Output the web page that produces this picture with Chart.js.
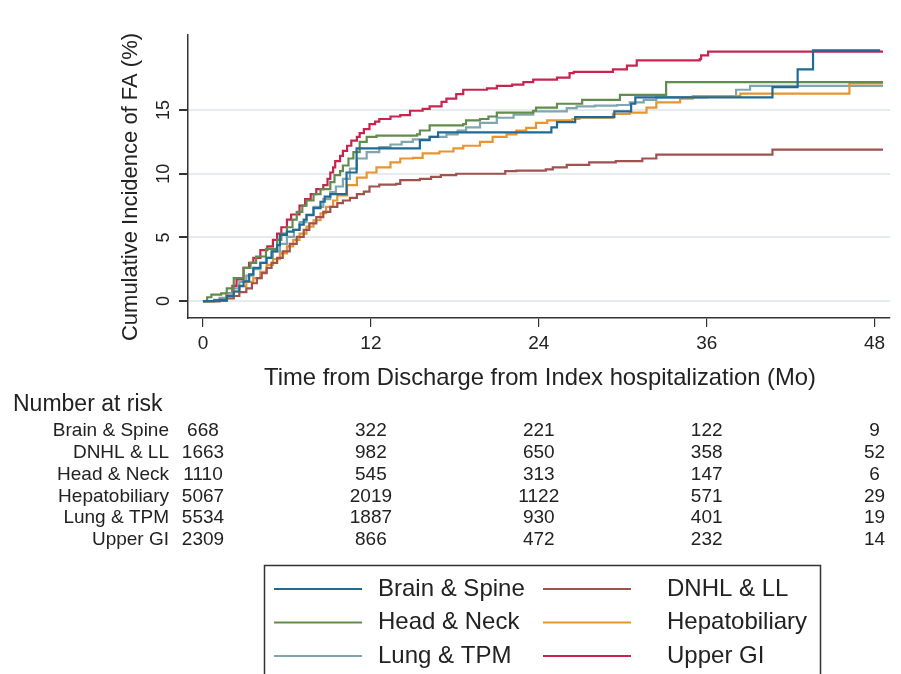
<!DOCTYPE html>
<html>
<head>
<meta charset="utf-8">
<script src="https://cdn.jsdelivr.net/npm/chart.js@4.4.1/dist/chart.umd.min.js"></script>
<style>
  html, body { margin: 0; padding: 0; background: #fff; }
  canvas { display: block; }
</style>
</head>
<body>
<canvas id="chart" width="901" height="674"></canvas>
<script>
/* Cumulative incidence curves, [months, percent at that jump] */
const brainSpine = [[0,0],[0.8,0.05],[1.2,0.1],[1.7,0.4],[2.2,0.75],[2.6,1.2],[2.9,1.55],[3.3,2.1],[3.6,2.6],[4.1,3.0],[4.55,3.4],[4.9,3.9],[5.3,4.4],[5.5,5.2],[6.0,5.45],[6.45,5.6],[6.9,6.0],[7.2,6.4],[7.4,6.75],[7.9,7.3],[8.4,7.8],[8.7,8.2],[9.1,8.4],[10.26,10.1],[10.98,12.0],[15.5,12.65],[16.2,12.9],[16.8,13.25],[24.9,13.65],[25.3,14.05],[26.6,14.45],[29.4,14.9],[30.6,15.5],[30.9,16.0],[40.7,16.8],[42.5,18.2],[43.6,19.7],[48.4,19.7]];
const dnhlLl = [[0,0],[1.2,0.02],[1.7,0.2],[2.2,0.4],[2.6,0.7],[3.1,1.0],[3.5,1.4],[3.85,1.8],[4.2,2.2],[4.55,2.6],[4.9,3.0],[5.3,3.4],[5.7,3.9],[6.2,4.5],[6.7,5.05],[7.2,5.6],[7.6,6.1],[8.1,6.6],[8.6,7.0],[9.1,7.4],[9.6,7.7],[10.0,7.9],[10.5,8.1],[11.0,8.4],[11.5,8.6],[11.9,9.0],[12.6,9.15],[13.8,9.2],[14.1,9.5],[15.5,9.6],[16.3,9.75],[17.0,9.9],[18.1,10.0],[21.6,10.2],[22.4,10.25],[24.5,10.35],[25.0,10.5],[26.0,10.7],[27.6,10.9],[29.5,11.0],[31.4,11.2],[32.4,11.5],[40.7,11.9],[48.6,11.9]];
const headNeck = [[0,0],[0.3,0.3],[0.6,0.5],[1.3,0.6],[1.7,1.0],[2.2,1.8],[2.9,2.6],[3.4,3.0],[3.8,3.5],[4.5,4.1],[5.3,4.8],[5.6,5.3],[6.0,5.8],[6.4,6.4],[6.7,7.0],[7.1,7.5],[7.4,7.9],[7.9,8.4],[8.4,8.8],[9.1,9.35],[9.4,9.9],[9.8,10.2],[10.0,10.65],[10.4,11.2],[10.75,11.7],[11.2,12.5],[11.7,12.9],[12.4,13.0],[15.3,13.1],[15.5,13.4],[16.2,13.8],[18.6,13.9],[18.8,14.2],[19.8,14.3],[20.4,14.5],[21.0,14.8],[23.6,14.95],[23.8,15.2],[25.3,15.5],[27.1,15.8],[29.8,16.2],[33.1,17.2],[48.6,17.2]];
const hepatobiliary = [[0,0],[1.0,0.02],[1.7,0.35],[2.2,0.75],[2.6,1.15],[3.1,1.5],[3.6,1.8],[4.1,2.3],[4.55,2.85],[5.0,3.3],[5.5,3.75],[6.0,4.3],[6.45,4.8],[6.9,5.3],[7.4,5.85],[7.9,6.35],[8.4,6.9],[8.8,7.4],[9.3,7.9],[9.6,8.3],[10.3,9.1],[11.0,9.7],[11.7,10.1],[12.4,10.5],[13.4,10.9],[14.1,11.2],[15.0,11.25],[15.7,11.6],[16.9,11.75],[17.9,12.0],[18.6,12.2],[19.8,12.5],[20.7,12.9],[21.7,13.1],[22.4,13.4],[23.1,13.6],[23.8,14.0],[24.6,14.2],[26.4,14.3],[26.9,14.4],[29.3,14.7],[30.5,14.8],[31.7,15.2],[32.4,15.6],[34.1,15.9],[35.0,16.1],[38.4,16.3],[46.2,17.1],[48.6,17.1]];
const lungTpm = [[0,0],[0.8,0.1],[1.2,0.25],[1.7,0.6],[2.2,1.0],[2.6,1.5],[3.1,2.0],[3.6,2.5],[4.1,3.0],[4.5,3.4],[5.0,3.9],[5.5,4.5],[6.0,5.05],[6.5,5.6],[6.9,6.2],[7.4,6.8],[7.9,7.4],[8.6,8.0],[9.1,8.55],[9.5,9.0],[10.0,9.6],[10.5,10.4],[11.0,11.2],[11.7,11.7],[12.6,12.1],[13.4,12.3],[14.2,12.5],[15.0,12.7],[16.2,12.9],[17.4,13.1],[18.2,13.4],[18.8,13.65],[19.8,14.0],[21.0,14.4],[22.2,14.65],[23.6,14.9],[26.0,15.15],[26.7,15.3],[28.0,15.35],[29.6,15.4],[30.5,15.6],[31.5,15.8],[32.4,16.0],[36.0,16.1],[38.1,16.6],[39.1,16.9],[48.6,16.9]];
const upperGi = [[0,0],[1.2,0.2],[1.7,0.6],[2.1,1.2],[2.4,1.7],[2.9,2.6],[3.3,3.0],[3.6,3.4],[4.1,4.0],[4.6,4.3],[5.0,4.8],[5.3,5.3],[5.6,5.8],[6.0,6.4],[6.3,6.8],[6.9,7.5],[7.3,8.0],[7.7,8.4],[8.1,8.8],[8.6,9.1],[8.9,9.6],[9.1,10.1],[9.3,10.5],[9.45,11.0],[9.8,11.4],[10.0,11.8],[10.3,12.2],[10.6,12.6],[11.0,12.9],[11.2,13.2],[11.5,13.5],[11.9,13.9],[12.3,14.1],[12.6,14.3],[13.4,14.5],[14.1,14.6],[14.8,14.95],[15.7,15.1],[16.2,15.3],[17.05,15.65],[17.4,15.9],[18.1,16.25],[18.6,16.6],[20.3,16.7],[21.0,16.9],[22.1,17.0],[22.9,17.2],[23.6,17.4],[25.3,17.55],[26.2,17.9],[26.5,18.0],[29.3,18.2],[30.3,18.5],[31.0,18.9],[35.5,19.0],[35.6,19.3],[36.1,19.6],[48.6,19.6]];

const seriesNames = ["Brain & Spine", "DNHL & LL", "Head & Neck", "Hepatobiliary", "Lung & TPM", "Upper GI"];
const seriesColors = ["#1f6b94", "#a0524f", "#628c4c", "#e8952f", "#7fa6ae", "#c72450"];
const seriesData = [brainSpine, dnhlLl, headNeck, hepatobiliary, lungTpm, upperGi];

/* Number at risk table */
const riskTimes = [0, 12, 24, 36, 48];
const riskBrainSpine = [668, 322, 221, 122, 9];
const riskDnhlLl = [1663, 982, 650, 358, 52];
const riskHeadNeck = [1110, 545, 313, 147, 6];
const riskHepatobiliary = [5067, 2019, 1122, 571, 29];
const riskLungTpm = [5534, 1887, 930, 401, 19];
const riskUpperGi = [2309, 866, 472, 232, 14];
const riskRows = [riskBrainSpine, riskDnhlLl, riskHeadNeck, riskHepatobiliary, riskLungTpm, riskUpperGi];

const xTicks = [0, 12, 24, 36, 48];
const yTicks = [0, 5, 10, 15];

const FONT = "'Liberation Sans', Arial, Helvetica, sans-serif";
const INK = "#222";

/* Draws tick labels, titles, risk table and legend in the Stata layout */
const stataDecor = {
    id: "stataDecor",
    afterDraw(chart) {
        const ctx = chart.ctx;
        const xs = chart.scales.x, ys = chart.scales.y;
        ctx.save();
        ctx.fillStyle = INK;

        /* y tick labels, rotated */
        ctx.font = `18px ${FONT}`;
        ctx.textAlign = "center";
        ctx.textBaseline = "middle";
        yTicks.forEach(v => {
            ctx.save();
            ctx.translate(164, ys.getPixelForValue(v));
            ctx.rotate(-Math.PI / 2);
            ctx.fillText(String(v), 0, 0);
            ctx.restore();
        });

        /* x tick labels */
        ctx.font = `19px ${FONT}`;
        xTicks.forEach(t => ctx.fillText(String(t), xs.getPixelForValue(t), 344));

        /* axis titles */
        ctx.font = `23.8px ${FONT}`;
        ctx.fillText("Time from Discharge from Index hospitalization (Mo)", 540, 378);
        ctx.font = `22px ${FONT}`;
        ctx.save();
        ctx.translate(131, 187);
        ctx.rotate(-Math.PI / 2);
        ctx.fillText("Cumulative Incidence of FA (%)", 0, 0);
        ctx.restore();

        /* number at risk */
        ctx.textAlign = "left";
        ctx.font = `23px ${FONT}`;
        ctx.fillText("Number at risk", 13, 405);
        ctx.font = `19px ${FONT}`;
        riskRows.forEach((row, i) => {
            const y = 431 + i * 21.8;
            ctx.textAlign = "right";
            ctx.fillText(seriesNames[i], 169, y);
            ctx.textAlign = "center";
            row.forEach((n, j) => ctx.fillText(String(n), xs.getPixelForValue(riskTimes[j]), y));
        });

        /* legend box */
        ctx.strokeStyle = "#333";
        ctx.lineWidth = 1.5;
        ctx.strokeRect(264.5, 565.5, 556, 120);
        ctx.font = `24px ${FONT}`;
        ctx.textAlign = "left";
        seriesNames.forEach((name, i) => {
            const col = i % 2, row = Math.floor(i / 2);
            const x0 = col === 0 ? 274 : 543;
            const y = 589 + row * 33.5;
            ctx.strokeStyle = seriesColors[i];
            ctx.lineWidth = 2;
            ctx.beginPath();
            ctx.moveTo(x0, y);
            ctx.lineTo(x0 + 88, y);
            ctx.stroke();
            ctx.fillStyle = INK;
            ctx.fillText(name, x0 + (col === 0 ? 104 : 124), y);
        });
        ctx.restore();
    }
};

new Chart(document.getElementById("chart"), {
    type: "line",
    data: {
        datasets: seriesData.map((pts, i) => ({
            label: seriesNames[i],
            data: pts.map(p => ({ x: p[0], y: p[1] })),
            borderColor: seriesColors[i],
            borderWidth: 2.2,
            stepped: true,
            pointRadius: 0,
            fill: false
        }))
    },
    options: {
        responsive: false,
        animation: false,
        layout: { padding: { left: 128, top: 35, right: 11, bottom: 296 } },
        plugins: { legend: { display: false }, tooltip: { enabled: false } },
        scales: {
            x: {
                type: "linear",
                min: -1.07,
                max: 49.1,
                afterBuildTicks: s => { s.ticks = xTicks.map(v => ({ value: v })); },
                afterFit: s => { s.height = 60; },
                ticks: { display: false },
                grid: { drawOnChartArea: false, drawTicks: true, tickLength: 9, tickColor: "#333", lineWidth: 1.2 },
                border: { color: "#333", width: 1.5 }
            },
            y: {
                type: "linear",
                min: -1.33,
                max: 20.9,
                afterBuildTicks: s => { s.ticks = yTicks.map(v => ({ value: v })); },
                afterFit: s => { s.width = 60; },
                ticks: { display: false },
                grid: { color: "#e6ebf0", lineWidth: 2, drawTicks: true, tickLength: 9, tickColor: "#333" },
                border: { color: "#333", width: 1.5 }
            }
        }
    },
    plugins: [stataDecor]
});
</script>
</body>
</html>
